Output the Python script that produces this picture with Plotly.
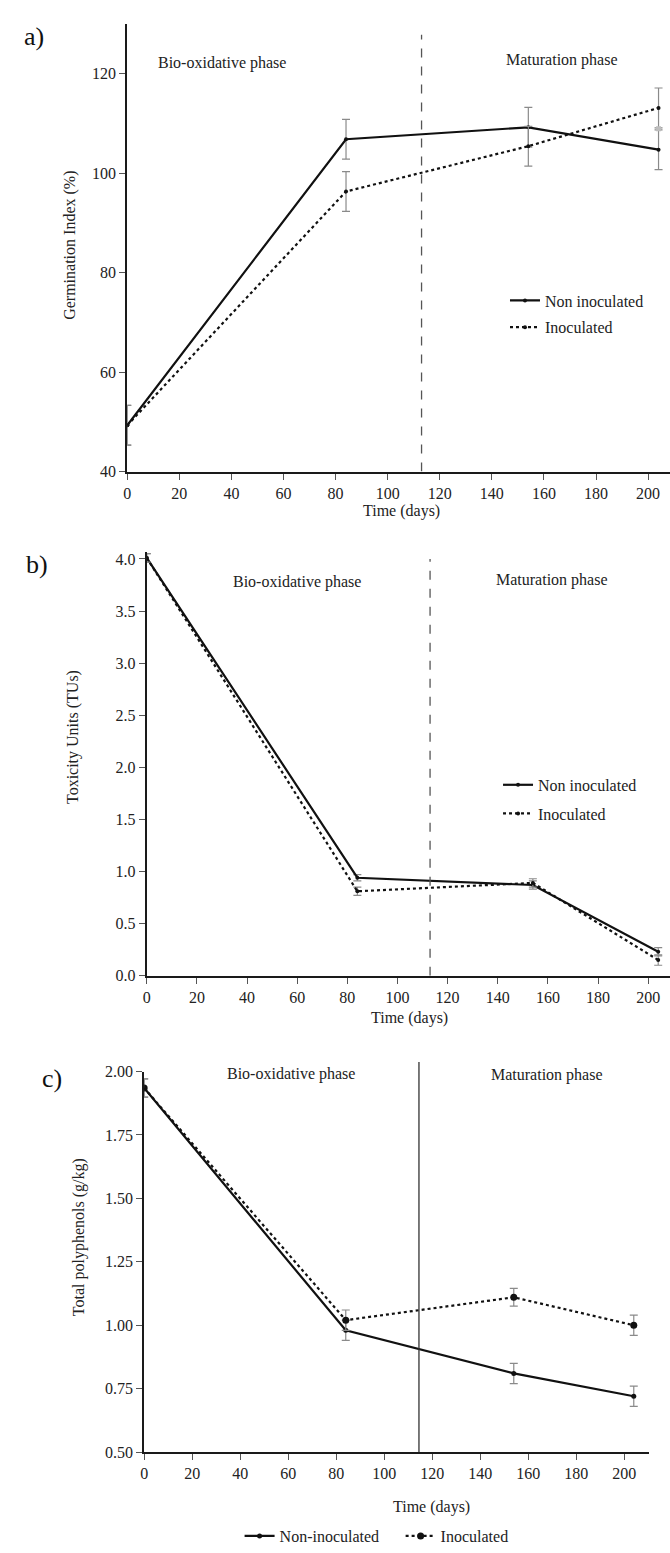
import plotly.graph_objects as go

W, H = 670, 1553
FONT = "Liberation Serif, Times New Roman, serif"

# ---------------- data ----------------
days = [0, 84, 154, 204]

gi_non = [49.3, 106.8, 109.2, 104.7]
gi_non_err = [4.0, 4.0, 4.0, 4.0]
gi_ino = [49.3, 96.3, 105.4, 113.1]
gi_ino_err = [4.0, 4.0, 4.0, 4.0]
gi_stray_day = [204]
gi_stray_val = [108.9]

tu_non = [4.01, 0.94, 0.87, 0.23]
tu_non_err = [0.04, 0.03, 0.04, 0.04]
tu_ino = [4.01, 0.81, 0.89, 0.15]
tu_ino_err = [0.04, 0.04, 0.04, 0.05]

tp_non = [1.935, 0.98, 0.81, 0.72]
tp_non_err = [0.036, 0.04, 0.04, 0.04]
tp_ino = [1.935, 1.02, 1.11, 1.00]
tp_ino_err = [0.036, 0.04, 0.035, 0.04]

phase_split_a = 113
phase_split_b = 113
phase_split_c = 114.5

x_ticks = [0, 20, 40, 60, 80, 100, 120, 140, 160, 180, 200]
gi_ticks = [40, 60, 80, 100, 120]
tu_ticks = [0.0, 0.5, 1.0, 1.5, 2.0, 2.5, 3.0, 3.5, 4.0]
tp_ticks = [0.50, 0.75, 1.00, 1.25, 1.50, 1.75, 2.00]


def px(x):
    return x / W


def py(y):
    return 1 - y / H


fig = go.Figure()

ERR_COLOR = "#8a8a8a"


def add_pair(non, non_err, ino, ino_err, xa, ya, legs, names, msize, msize_i):
    fig.add_trace(go.Scatter(
        x=days, y=non, mode="lines+markers", name=names[0],
        line=dict(color="#111111", width=2.2),
        marker=dict(color="#111111", size=msize, symbol="circle"),
        error_y=dict(type="data", array=non_err, color=ERR_COLOR, thickness=1.2, width=4),
        xaxis=xa, yaxis=ya, legend=legs[0]))
    fig.add_trace(go.Scatter(
        x=days, y=ino, mode="lines+markers", name=names[1],
        line=dict(color="#111111", width=2.2, dash="dot"),
        marker=dict(color="#111111", size=msize_i, symbol="circle"),
        error_y=dict(type="data", array=ino_err, color=ERR_COLOR, thickness=1.2, width=4),
        xaxis=xa, yaxis=ya, legend=legs[1]))


add_pair(gi_non, gi_non_err, gi_ino, gi_ino_err, "x", "y", ["legend", "legend2"],
         ["Non inoculated", "Inoculated"], 4, 4)
fig.add_trace(go.Scatter(x=gi_stray_day, y=gi_stray_val, mode="markers", showlegend=False,
                         marker=dict(color="#bdbdbd", size=5, symbol="square"),
                         xaxis="x", yaxis="y", hoverinfo="skip"))
add_pair(tu_non, tu_non_err, tu_ino, tu_ino_err, "x2", "y2", ["legend3", "legend4"],
         ["Non inoculated", "Inoculated"], 4, 4)
add_pair(tp_non, tp_non_err, tp_ino, tp_ino_err, "x3", "y3", ["legend5", "legend6"],
         ["Non-inoculated", "Inoculated"], 5, 7)

FS = 16
tickfont = dict(family=FONT, size=FS, color="#222222")
textfont = dict(family=FONT, size=FS, color="#222222")

common_x = dict(showline=True, linecolor="#1a1a1a", linewidth=2, ticks="outside",
                ticklen=6, tickcolor="#555555", tickwidth=1, showgrid=False,
                zeroline=False, tickvals=x_ticks, tickfont=tickfont)
common_y = dict(showline=True, linecolor="#1a1a1a", linewidth=2, ticks="outside",
                ticklen=6, tickcolor="#555555", tickwidth=1, showgrid=False,
                zeroline=False, tickfont=tickfont)

fig.update_layout(
    xaxis=dict(common_x, domain=[px(124), 1.0], range=[0, 208.4], anchor="y"),
    yaxis=dict(common_y, domain=[py(469), py(16)], range=[40, 130], tickvals=gi_ticks,
               anchor="x"),
    xaxis2=dict(common_x, domain=[px(143.6), 1.0], range=[0, 208.7], anchor="y2"),
    yaxis2=dict(common_y, domain=[py(979), py(550)], range=[0, 4.07], tickvals=tu_ticks,
                tickformat=".1f", anchor="x2"),
    xaxis3=dict(common_x, domain=[px(141), px(649)], range=[0, 210.4], anchor="y3"),
    yaxis3=dict(common_y, domain=[py(1461), py(1076)], range=[0.5, 2.0], tickvals=tp_ticks,
                tickformat=".2f", anchor="x3"),
)

# phase separators
fig.add_shape(type="line", xref="x", yref="y", x0=phase_split_a, x1=phase_split_a,
              y0=40, y1=127.8, line=dict(color="#555555", width=1.3, dash="dash"))
fig.add_shape(type="line", xref="x2", yref="y2", x0=phase_split_b, x1=phase_split_b,
              y0=0, y1=4.0, line=dict(color="#555555", width=1.3, dash="dash"))
fig.add_shape(type="line", xref="x3", yref="y3 domain", x0=phase_split_c, x1=phase_split_c,
              y0=0, y1=1.025, line=dict(color="#333333", width=1.3))

# phase labels and axis titles
texts = [
    ("Bio-oxidative phase", 219, 56, 0),
    ("Maturation phase", 561, 53, 0),
    ("Bio-oxidative phase", 295, 581, 0),
    ("Maturation phase", 551, 579, 0),
    ("Bio-oxidative phase", 289, 1078, 0),
    ("Maturation phase", 546, 1080, 0),
    ("Time (days)", 400, 509, 0),
    ("Time (days)", 408, 1022, 0),
    ("Time (days)", 430, 1517, 0),
    ("Germination Index (%)", 67, 240, -90),
    ("Toxicity Units (TUs)", 70, 738, -90),
    ("Total polyphenols (g/kg)", 75, 1244, -90),
]
for text, x, y, ang in texts:
    fig.add_annotation(text=text, x=px(x), y=py(y), xref="paper", yref="paper",
                       showarrow=False, font=textfont, textangle=ang,
                       xanchor="center", yanchor="middle")

panelfont = dict(family=FONT, size=26, color="#111111")
for text, x, y in [("a)", 30, 29), ("b)", 33, 563), ("c)", 48, 1083)]:
    fig.add_annotation(text=text, x=px(x), y=py(y), xref="paper", yref="paper",
                       showarrow=False, font=panelfont, xanchor="center", yanchor="middle")

legfont = dict(family=FONT, size=FS, color="#222222")


def leg(x, y):
    return dict(x=px(x), y=py(y), xanchor="left", yanchor="middle", font=legfont,
                bgcolor="rgba(0,0,0,0)", itemwidth=30, borderwidth=0)


fig.update_layout(
    legend=leg(504, 296),
    legend2=leg(504, 323),
    legend3=leg(497, 786),
    legend4=leg(497, 815),
    legend5=leg(237, 1546),
    legend6=leg(399, 1546),
)

fig.update_layout(
    width=W, height=H, margin=dict(l=0, r=0, t=0, b=0),
    paper_bgcolor="white", plot_bgcolor="white",
    font=dict(family=FONT, color="#222222"),
)

fig.write_html(
    "out.html",
    config={"displayModeBar": False},
    post_script=("document.body.style.margin='0';"
                 "document.body.style.overflow='hidden';"
                 "document.documentElement.style.overflow='hidden';"),
)
